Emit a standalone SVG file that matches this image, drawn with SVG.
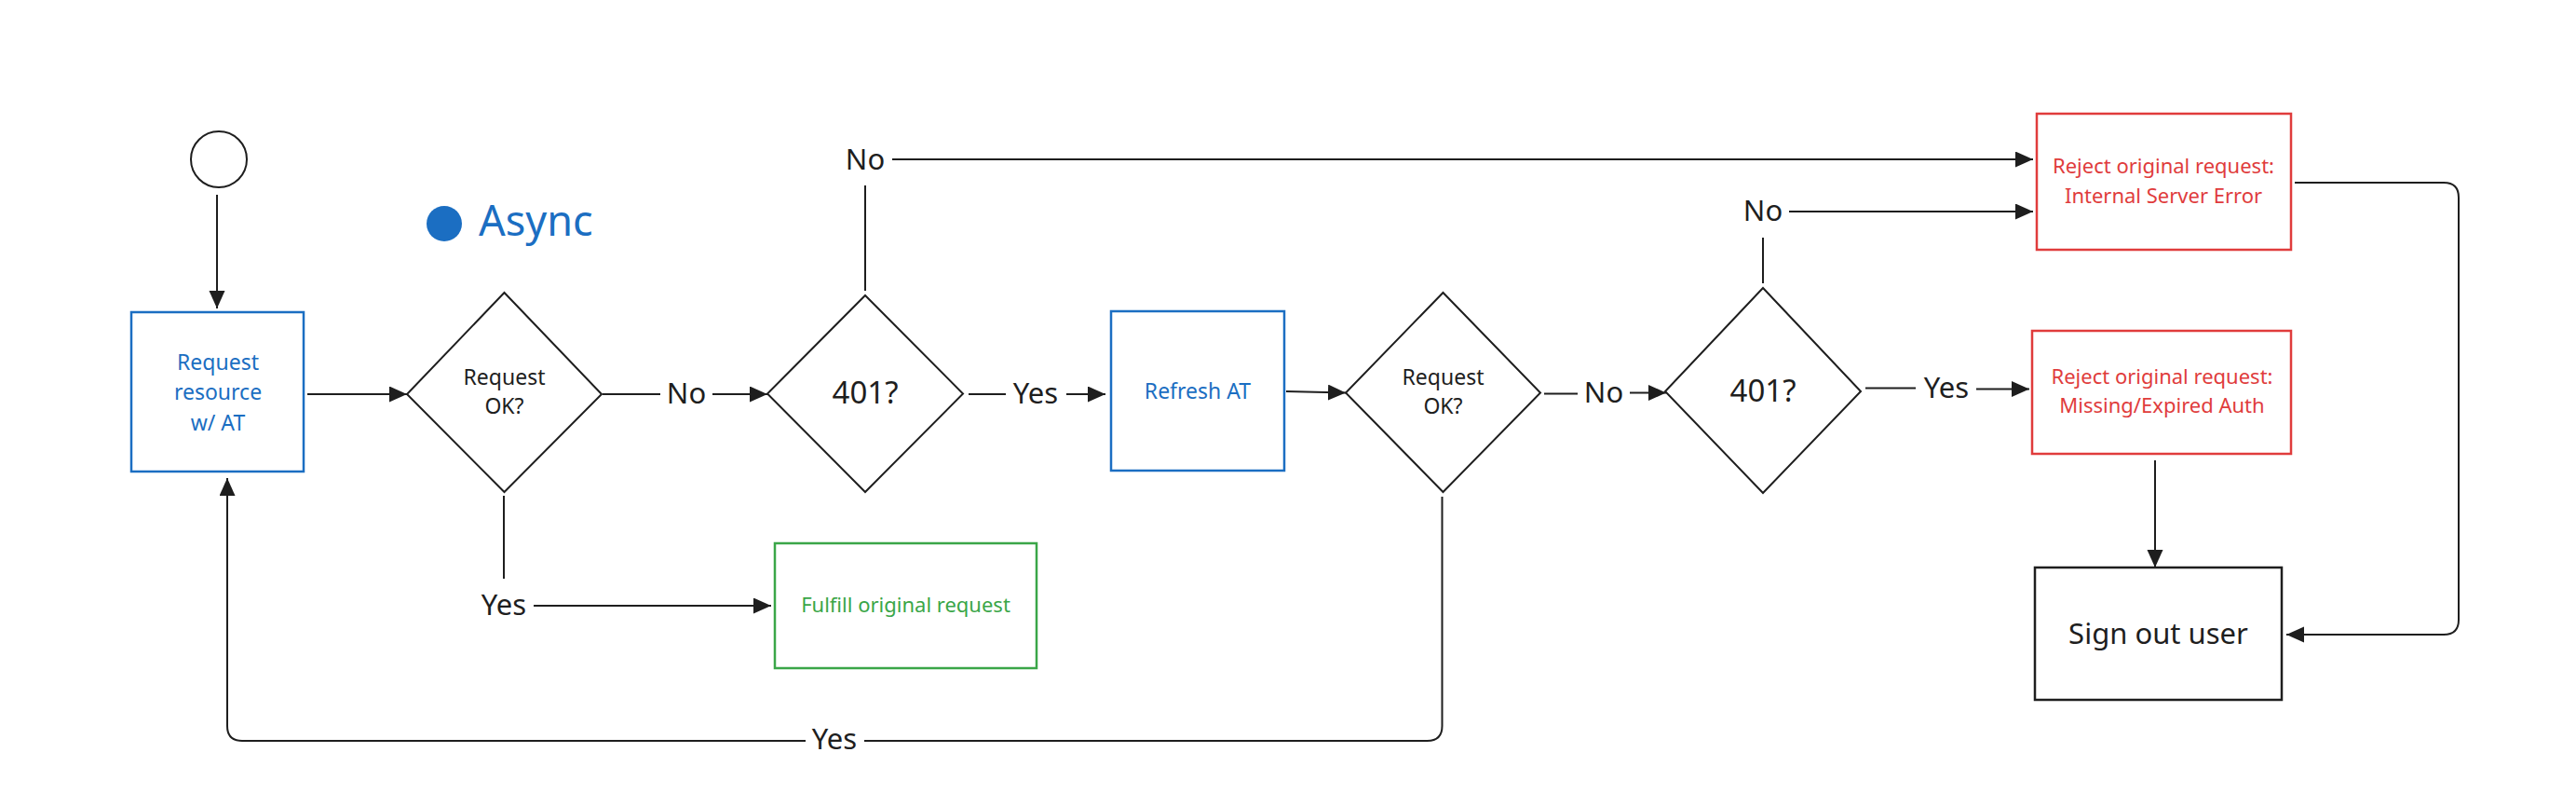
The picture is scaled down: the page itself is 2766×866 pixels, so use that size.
<svg xmlns="http://www.w3.org/2000/svg" width="2766" height="866" viewBox="0 0 2766 866">
<style>
text{font-family:"Noto Sans","Open Sans","Liberation Sans",sans-serif;text-anchor:middle}
.blue{fill:#1b6ec2}.red{fill:#e03c3c}.green{fill:#3aa648}.dark{fill:#1e1e1e}
.n{font-size:23px}.s{font-size:22px}.l{font-size:31px}.q{font-size:33px}
.box{fill:#fff;stroke-width:2.5}
.dia{fill:#fff;stroke:#1e1e1e;stroke-width:2}
.c{fill:none;stroke:#1e1e1e;stroke-width:2}
.a{marker-end:url(#arr)}
</style>
<defs>
<marker id="arr" markerUnits="userSpaceOnUse" markerWidth="20" markerHeight="18" refX="19" refY="8.5" orient="auto">
<path d="M0,0 L19,8.5 L0,17 z" fill="#1e1e1e"/>
</marker>
</defs>
<rect width="2766" height="866" fill="#fff"/>

<g id="start"><circle cx="235" cy="171" r="30" fill="#fff" stroke="#1e1e1e" stroke-width="2"/></g>

<g id="async-label">
<circle cx="477" cy="240" r="19" fill="#1b6ec2"/>
<text x="514" y="253" class="blue" style="font-size:45px;text-anchor:start">Async</text>
</g>

<g id="request-resource">
<rect x="141" y="335" width="185" height="171" class="box" stroke="#1b6ec2"/>
<text class="blue n" x="234" y="397">Request</text>
<text class="blue n" x="234" y="429">resource</text>
<text class="blue n" x="234" y="462">w/ AT</text>
</g>

<g id="request-ok-1">
<polygon class="dia" points="541.5,314 646,423 541.5,528 437,423"/>
<text class="dark n" x="541.5" y="413">Request</text>
<text class="dark n" x="541.5" y="444">OK?</text>
</g>

<g id="is-401-1">
<polygon class="dia" points="929,317 1034,422.5 929,528 824,422.5"/>
<text class="dark q" x="929" y="433">401?</text>
</g>

<g id="refresh-at">
<rect x="1193" y="334" width="186" height="171" class="box" stroke="#1b6ec2"/>
<text class="blue n" x="1286" y="428">Refresh AT</text>
</g>

<g id="request-ok-2">
<polygon class="dia" points="1549.5,314 1654,421.5 1549.5,528 1445,421.5"/>
<text class="dark n" x="1549.5" y="413">Request</text>
<text class="dark n" x="1549.5" y="444">OK?</text>
</g>

<g id="is-401-2">
<polygon class="dia" points="1893,309 1998,420 1893,529 1788,420"/>
<text class="dark q" x="1893" y="431">401?</text>
</g>

<g id="fulfill">
<rect x="832" y="583" width="281" height="134" class="box" stroke="#3aa648"/>
<text class="green s" x="972.5" y="657">Fulfill original request</text>
</g>

<g id="reject-ise">
<rect x="2187" y="122" width="273" height="146" class="box" stroke="#e03c3c"/>
<text class="red s" x="2323" y="186">Reject original request:</text>
<text class="red s" x="2323" y="218">Internal Server Error</text>
</g>

<g id="reject-auth">
<rect x="2182" y="355" width="278" height="132" class="box" stroke="#e03c3c"/>
<text class="red s" x="2321.5" y="412">Reject original request:</text>
<text class="red s" x="2321.5" y="443">Missing/Expired Auth</text>
</g>

<g id="sign-out">
<rect x="2185" y="609" width="265" height="142" class="box" stroke="#1e1e1e"/>
<text class="dark l" x="2317.5" y="691">Sign out user</text>
</g>

<g id="connectors">
<path class="c a" d="M233,209 V331"/>
<path class="c a" d="M330,423 H437"/>
<path class="c" d="M647,423 H709"/>
<path class="c a" d="M765,423 H824"/>
<path class="c" d="M1040,423 H1080"/>
<path class="c a" d="M1145,423 H1187"/>
<path class="c a" d="M1381,420 L1445,421.5"/>
<path class="c" d="M1658,422.5 H1694"/>
<path class="c a" d="M1750,421.5 H1789"/>
<path class="c" d="M2003,416.5 H2057"/>
<path class="c a" d="M2122,417.5 H2179"/>
<path class="c" d="M929,312 V199"/>
<path class="c a" d="M958,171 H2183"/>
<path class="c" d="M1893,304 V255"/>
<path class="c a" d="M1921,227 H2183"/>
<path class="c" d="M541,532 V621"/>
<path class="c a" d="M573,650 H828"/>
<path class="c a" d="M2314,494 V609"/>
<path class="c a" d="M2464,196 H2624 Q2640,196 2640,212 V665 Q2640,681 2624,681 H2455"/>
<path class="c" d="M1548.5,533 V779 Q1548.5,795 1532.5,795 H928"/>
<path class="c a" d="M865,795 H260 Q244,795 244,779 V513"/>
<text class="dark l" x="737" y="433">No</text>
<text class="dark l" x="1112" y="433">Yes</text>
<text class="dark l" x="1722" y="432">No</text>
<text class="dark l" x="2090" y="427">Yes</text>
<text class="dark l" x="929" y="182">No</text>
<text class="dark l" x="1893" y="237">No</text>
<text class="dark l" x="541" y="660">Yes</text>
<text class="dark l" x="896" y="804">Yes</text>
</g>
</svg>
